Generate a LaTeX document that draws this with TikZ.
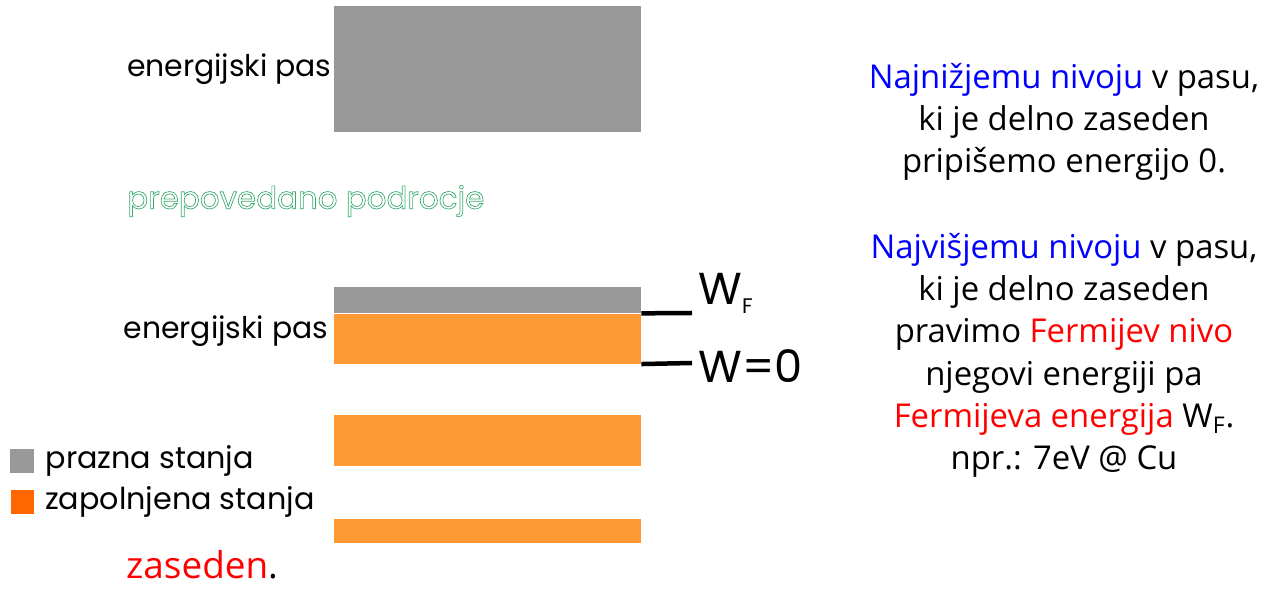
\documentclass[tikz,border=0pt]{standalone}
\usepackage{fontspec}
\usepackage{xcolor}
\usepackage{tikz}
\usetikzlibrary{positioning}
\setmainfont{Open Sans}
\newfontfamily\geofont{Poppins}
\definecolor{bandgray}{HTML}{999999}
\definecolor{bandorange}{HTML}{FF9933}
\definecolor{keyorange}{HTML}{FF6600}
\definecolor{gapgreen}{HTML}{3AAA6E}
\definecolor{levelblue}{HTML}{0000FF}
\definecolor{levelred}{HTML}{FF0000}
\newcommand{\hollow}[1]{\special{pdf:code 1 Tr 0.4 w}#1\special{pdf:code 0 Tr}}

\begin{document}
\begin{tikzpicture}[x=0.02cm, y=-0.02cm]
    \tikzstyle{band} = [rectangle, inner sep=0pt, minimum width=6.14cm]
    \tikzstyle{bandlabel} = [inner sep=0pt, font=\geofont\fontsize{17}{20}\selectfont]
    \tikzstyle{key} = [rectangle, inner sep=0pt, minimum size=0.48cm]
    \tikzstyle{keylabel} = [inner sep=0pt, font=\geofont\fontsize{17.2}{20}\selectfont]
    \tikzstyle{wlabel} = [inner sep=0pt, anchor=base west, font=\geofont\fontsize{25.5}{30}\selectfont]
    \tikzstyle{level} = [line width=0.09cm]
    \tikzstyle{note} = [align=center, inner sep=0pt, anchor=north, font=\fontsize{18.7}{24}\selectfont]

    \useasboundingbox (0,0) rectangle (1282,590);

    % energijski pasovi
    \node (upper) [band, fill=bandgray, minimum height=2.52cm] at (487.5,69) {};
    \node (empty) [band, fill=bandgray, minimum height=0.52cm] at (487.5,300) {};
    \node (filled) [band, fill=bandorange, minimum height=1cm, below=0pt of empty] {};
    \node (lower) [band, fill=bandorange, minimum height=1.02cm] at (487.5,440.5) {};
    \node (lowest) [band, fill=bandorange, minimum height=0.48cm] at (487.5,531) {};

    \node (upperlabel) [bandlabel, left=1pt of upper] {energijski pas};
    \node (filledlabel) [bandlabel, left=3pt of filled, yshift=0.16cm] {energijski pas};
    \node (gap) [bandlabel, font=\geofont\fontsize{17.6}{20}\selectfont, text=gapgreen, anchor=west] at (127,201) {\hollow{prepovedano podrocje}};

    % nivoja
    \coordinate (fermi) at (692,313);
    \coordinate (zero) at (692,363);
    \draw [level] (filled.north east) -- (fermi);
    \draw [level] (filled.south east) -- (zero);
    \node (fermilabel) [wlabel] at (698,305) {W\raisebox{-5pt}{\fontsize{12}{12}\selectfont F}};
    \node (zerolabel) [wlabel] at (698,383) {W=0};

    % legenda
    \node (emptykey) [key, fill=bandgray] at (22,461) {};
    \node (emptytext) [keylabel, right=0.22cm of emptykey] {prazna stanja};
    \node (filledkey) [key, fill=keyorange] at (22.5,502) {};
    \node (filledtext) [keylabel, right=0.2cm of filledkey] {zapolnjena stanja};

    \node (occupied) [anchor=base west, font=\fontsize{21}{24}\selectfont, text=levelred] at (120,579) {zaseden\textcolor{black}{.}};

    % razlaga
    \node (lowestnote) [note] at (1064,63) {\textcolor{levelblue}{Najnižjemu nivoju} v pasu,\\ki je delno zaseden\\pripišemo energijo 0.};
    \node (fermnote) [note] at (1064,233) {\textcolor{levelblue}{Najvišjemu nivoju} v pasu,\\ki je delno zaseden\\pravimo \textcolor{levelred}{Fermijev nivo}\\njegovi energiji pa\\\textcolor{levelred}{Fermijeva energija} W\textsubscript{F}.\\npr.: 7eV @ Cu};
\end{tikzpicture}
\end{document}
